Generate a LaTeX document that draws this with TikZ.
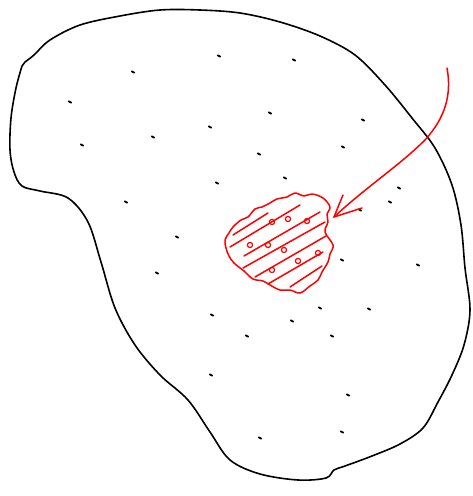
\documentclass[tikz,border=0pt]{standalone}
\usetikzlibrary{calc}

\begin{document}
\begin{tikzpicture}[
  x=1pt, y=-1pt,
  outline/.style={black, line width=1.6pt, line join=round},
  speck/.style={black, line width=1.8pt, line cap=round},
  ink/.style={red, line width=1.5pt, line cap=round, line join=round},
]
\useasboundingbox (0,0) rectangle (473,496);

% the body
\draw[outline] (25,62) -- (22,66)
  plot[smooth, tension=0.55] coordinates {
  (22,66) (16,88) (11,118) (10,150) (14,172) (22,186) (40,191) (68,198)
  (88,222) (101,262) (115,308) (135,345) (160,375) (188,400) (210,432)
  (230,460) (260,474) (298,480) (326,478) (334,470) (345,466) (372,456)
  (400,444) (423,428) (438,402) (452,375) (464,345) (470,310) (465,268)
  (461,225) (452,185) (435,148) (412,118) (385,85) (355,55) (320,36)
  (280,22) (240,13) (200,10) (160,10) (120,16) (80,25) (50,40) (34,55)
  (25,62)};

% scattered points
\foreach \px/\py in {133/72, 219/56, 294/60, 70/102, 153/137, 210/127,
  270/113, 363/120, 82/145, 259/154, 343/147, 217/183, 285/178, 399/188,
  126/202, 390/202, 360/210, 177/237, 342/260, 418/265, 157/273, 212/315,
  292/321, 320/308, 369/309, 247/336, 332/336, 211/375, 348/395, 260/438,
  342/432}
  \draw[speck] (\px-1.3,\py-0.7) -- (\px+1.3,\py+0.7);

% the red patch
\draw[ink] plot[smooth cycle, tension=0.6] coordinates {
  (262,207) (270,203) (277,199) (287,197) (295,193) (304,196) (312,194)
  (323,198) (330,207) (327,214) (328,222) (325,232) (333,245) (330,254)
  (328,262) (322,272) (318,280) (310,286) (300,293) (290,290) (280,290)
  (270,285) (263,281) (253,279) (244,271) (234,263) (229,256) (226,248)
  (225,240) (229,233) (233,227) (241,220) (248,217) (255,209)};

% hatching
\foreach \ax/\ay/\bx/\by in {233/235/268/213, 230/247/300/205, 244/256/320/212,
  243/268/325/222, 255/277/326/236, 268/284/323/252, 290/287/322/266}
  \draw[ink] (\ax,\ay) -- (\bx,\by);

% marks inside the patch
\foreach \cx/\cy in {272/222, 288/219, 307/221, 250/245, 268/245, 284/250,
  318/253, 272/270, 298/261}
  \draw[ink, line width=1.2pt] (\cx,\cy) circle (2.6);

% the pointer
\coordinate (tip) at (334,217);
\draw[ink] (447,68) .. controls (452,95) and (445,118) .. (425,140)
  .. controls (400,165) and (365,188) .. (tip);
\draw[ink] (343,195) -- (tip) -- (362,208);
\end{tikzpicture}
\end{document}
